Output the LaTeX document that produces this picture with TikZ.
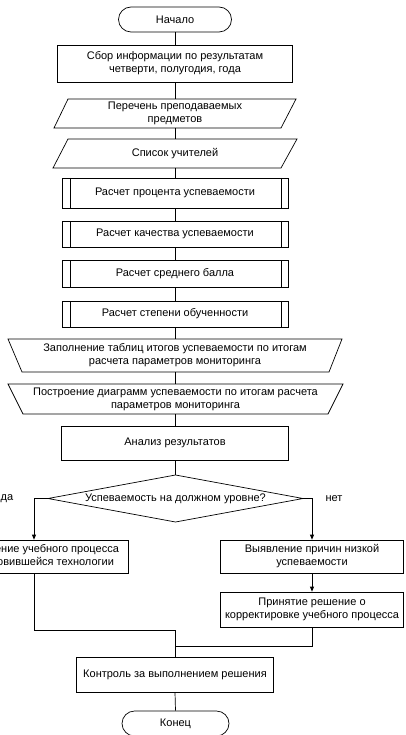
\documentclass[tikz,border=0pt]{standalone}
\usepackage{fontspec}
\setmainfont{Liberation Sans}
\usetikzlibrary{arrows.meta,calc}
\begin{document}
\begin{tikzpicture}[x=1pt,y=-1pt,
  every node/.style={font=\fontsize{11}{13}\selectfont, inner sep=0pt, align=center},
  line/.style={draw=black, line width=0.7pt},
  box/.style={line, rectangle},
  term/.style={line, rectangle, rounded corners=12.5pt, minimum height=25pt},
  ghost/.style={rectangle, outer sep=0pt},
  subproc/.style={box, minimum width=226pt,
    path picture={
      \draw[line] ([xshift=8pt]path picture bounding box.north west) -- ([xshift=8pt]path picture bounding box.south west);
      \draw[line] ([xshift=-7pt]path picture bounding box.north east) -- ([xshift=-7pt]path picture bounding box.south east);
    }},
  arr/.style={line, -{Triangle[length=5pt,width=4pt]}},
  lbl/.style={font=\fontsize{11}{13}\selectfont},
]
\useasboundingbox (0,0) rectangle (405,735);
\clip (0,0) rectangle (405,735);

% terminals and process boxes of the main column
\node[term, minimum width=113pt] (start) at (175,19.5) {Начало};
\node[box, minimum width=235pt, minimum height=37pt] (collect) at (175,63.5)
  {Сбор информации по результатам\\четверти, полугодия, года};

% input data (parallelograms)
\node[ghost, minimum width=242pt, minimum height=29pt] (subjects) at (175,113.5)
  {Перечень преподаваемых\\предметов};
\draw[line] (subjects.south west) -- ([xshift=-15pt]subjects.south east)
  -- (subjects.north east) -- ([xshift=14pt]subjects.north west) -- cycle;

\node[ghost, minimum width=244pt, minimum height=29pt] (teachers) at (175,153.5)
  {Список учителей};
\draw[line] (teachers.south west) -- ([xshift=-16pt]teachers.south east)
  -- (teachers.north east) -- ([xshift=15pt]teachers.north west) -- cycle;

% predefined processes
\node[subproc, minimum height=30pt] (pct) at (175,193) {Расчет процента успеваемости};
\node[subproc, minimum height=26pt] (qual) at (175,234) {Расчет качества успеваемости};
\node[subproc, minimum height=27pt] (avg) at (175,273.5) {Расчет среднего балла};
\node[subproc, minimum height=26pt] (deg) at (175,314) {Расчет степени обученности};

% manual operations (trapezoids)
\node[ghost, minimum width=334pt, minimum height=33pt] (tables) at (175,355.5)
  {Заполнение таблиц итогов успеваемости по итогам\\расчета параметров мониторинга};
\draw[line] (tables.north west) -- (tables.north east)
  -- ([xshift=-13pt]tables.south east) -- ([xshift=14pt]tables.south west) -- cycle;

\node[ghost, minimum width=335pt, minimum height=30pt] (charts) at (175.5,399)
  {Построение диаграмм успеваемости по итогам расчета\\параметров мониторинга};
\draw[line] (charts.north west) -- (charts.north east)
  -- ([xshift=-15pt]charts.south east) -- ([xshift=15pt]charts.south west) -- cycle;

\node[box, minimum width=227pt, minimum height=34pt] (analysis) at (175,443) {Анализ результатов};

% decision
\node[ghost, minimum width=255pt, minimum height=47pt] (dec) at (175.5,498.5)
  {Успеваемость на должном уровне?};
\draw[line] (dec.north) -- (dec.east) -- (dec.south) -- (dec.west) -- cycle;

% branches
\node[box, minimum width=188pt, minimum height=33pt] (keep) at (34,556.5)
  {Продолжение учебного процесса\\по установившейся технологии};
\node[box, minimum width=183pt, minimum height=33pt] (causes) at (312,556.5)
  {Выявление причин низкой\\успеваемости};
\node[box, minimum width=183pt, minimum height=35pt] (decide) at (312,609.5)
  {Принятие решение о\\корректировке учебного процесса};

\node[box, minimum width=197pt, minimum height=35pt] (control) at (175,674.5)
  {Контроль за выполнением решения};
\node[term, minimum width=107pt] (stop) at (175.5,723.5) {Конец};

\node[lbl] (yes) at (7,499) {да};
\node[lbl] (no) at (334,499) {нет};

% connectors
\draw[line] (start.south) -- (collect.north);
\draw[line] (collect.south) -- (subjects.north);
\draw[line] (subjects.south) -- (teachers.north);
\draw[line] (teachers.south) -- (pct.north);
\draw[line] (pct.south) -- (qual.north);
\draw[line] (qual.south) -- (avg.north);
\draw[line] (avg.south) -- (deg.north);
\draw[line] (deg.south) -- (tables.north);
\draw[line] (tables.south) -- (charts.south |- tables.south);
\draw[line] ([xshift=-0.5pt]charts.north) -- (tables.south);
\draw[line] ([xshift=-0.5pt]charts.south) -- (analysis.north);
\draw[line] (analysis.south) -- (analysis.south |- dec.north);

\draw[arr] (dec.west) -| (keep.north);
\draw[arr] (dec.east) -| (causes.north);
\draw[arr] (causes.south) -- (decide.north);

\coordinate (joinL) at (175,630);
\coordinate (joinR) at (175,646);
\draw[line] (keep.south) |- (joinL);
\draw[line] (decide.south) |- (joinR);
\draw[line] (joinL) -- (control.north);
\draw[line] (control.south) -- (stop.north);
\end{tikzpicture}
\end{document}
